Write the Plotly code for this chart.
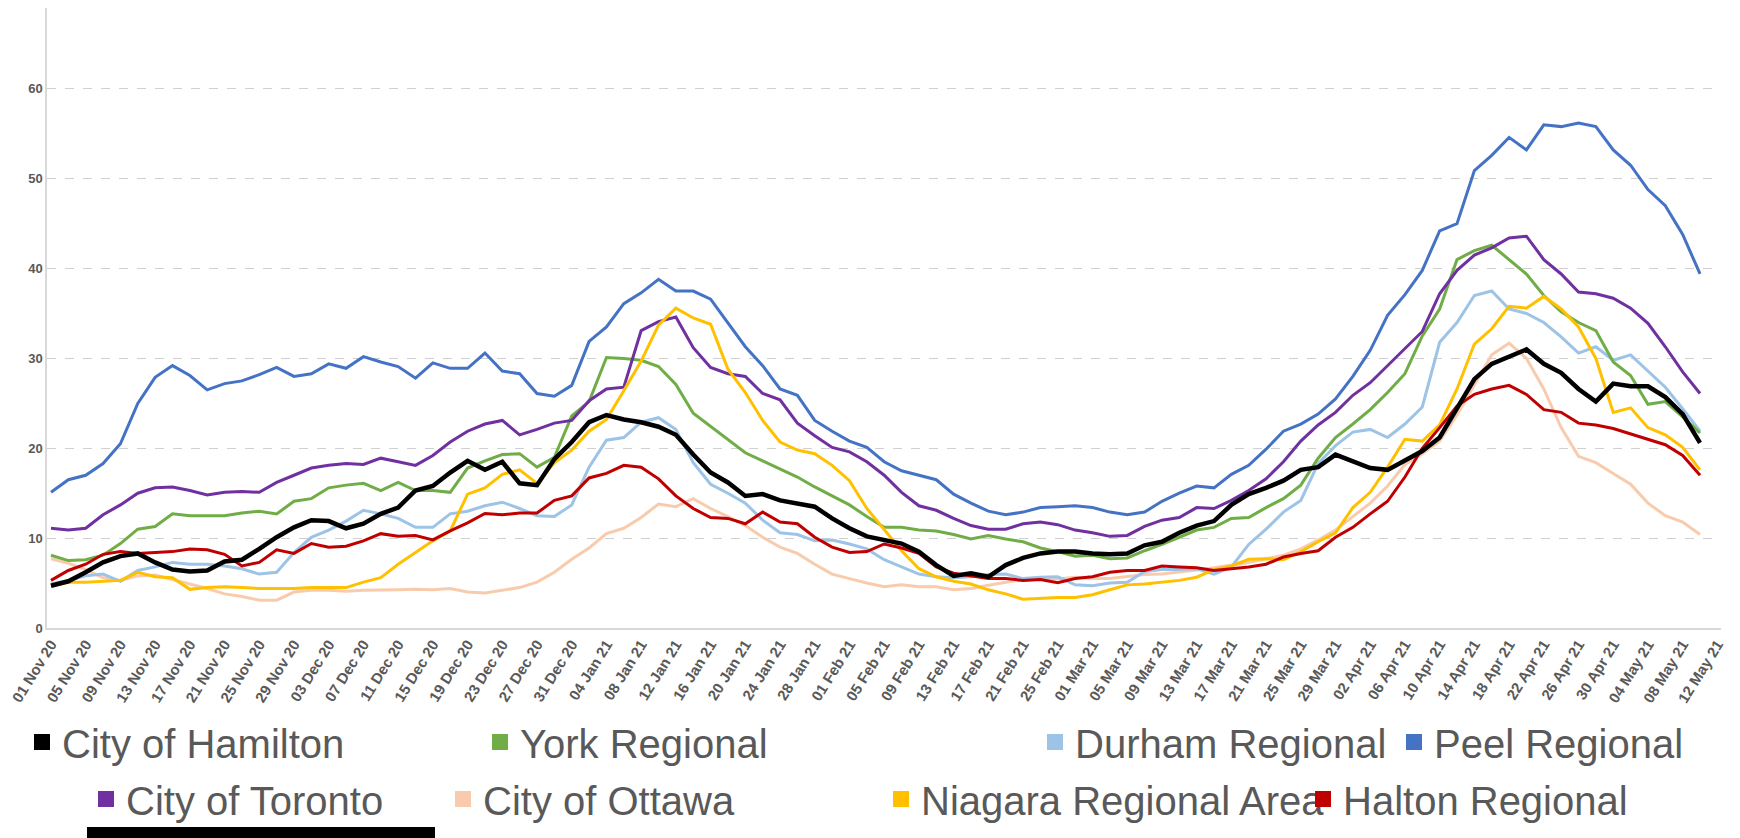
import pandas as pd
import plotly.graph_objects as go

# Dates: every 2 days, 01 Nov 2020 .. 10 May 2021
dates = pd.date_range("2020-11-01", "2021-05-10", freq="2D")

hamilton = [4.7, 5.2, 6.2, 7.3, 8.0, 8.3, 7.3, 6.5, 6.3, 6.4,
            7.4, 7.6, 8.8, 10.1, 11.2, 12.0, 11.9, 11.1, 11.6, 12.7,
            13.4, 15.3, 15.8, 17.3, 18.6, 17.6, 18.5, 16.1, 15.9, 18.8,
            20.7, 22.9, 23.7, 23.2, 22.9, 22.4, 21.5, 19.3, 17.3, 16.2,
            14.7, 14.9, 14.2, 13.9, 13.5, 12.2, 11.1, 10.2, 9.8, 9.4,
            8.5, 7.0, 5.8, 6.1, 5.7, 7.0, 7.8, 8.3, 8.5, 8.5,
            8.3, 8.2, 8.3, 9.2, 9.6, 10.6, 11.4, 11.9, 13.7, 14.9,
            15.6, 16.4, 17.6, 17.9, 19.3, 18.5, 17.8, 17.6, 18.6, 19.7,
            21.2, 24.4, 27.7, 29.4, 30.2, 31.0, 29.4, 28.4, 26.6, 25.2,
            27.2, 26.9, 26.9, 25.7, 23.8, 20.6]

york = [8.1, 7.5, 7.6, 8.1, 9.4, 11.0, 11.3, 12.7, 12.5, 12.5,
        12.5, 12.8, 13.0, 12.7, 14.1, 14.4, 15.6, 15.9, 16.1, 15.3,
        16.2, 15.3, 15.3, 15.1, 17.8, 18.6, 19.3, 19.4, 17.9, 19.0,
        23.6, 25.2, 30.1, 30.0, 29.8, 29.1, 27.1, 23.9, 22.4, 21.0,
        19.5, 18.6, 17.7, 16.8, 15.7, 14.7, 13.7, 12.4, 11.2, 11.2,
        10.9, 10.8, 10.4, 9.9, 10.3, 9.9, 9.6, 8.9, 8.5, 8.0,
        8.1, 7.7, 7.8, 8.6, 9.3, 10.1, 10.9, 11.2, 12.2, 12.3,
        13.4, 14.4, 15.9, 18.9, 21.2, 22.7, 24.3, 26.2, 28.3, 32.5,
        35.5, 41.0, 42.0, 42.6, 41.0, 39.4, 37.0, 35.2, 34.0, 33.1,
        29.6, 28.1, 24.9, 25.2, 23.5, 21.7]

durham = [4.9, 5.3, 5.8, 6.0, 5.2, 6.4, 6.8, 7.3, 7.1, 7.1,
          6.9, 6.6, 6.0, 6.2, 8.4, 10.1, 10.9, 11.9, 13.1, 12.7,
          12.2, 11.2, 11.2, 12.7, 13.0, 13.6, 14.0, 13.3, 12.5, 12.4,
          13.7, 17.9, 20.9, 21.2, 22.9, 23.4, 22.1, 18.4, 16.0, 15.0,
          13.9, 12.0, 10.6, 10.4, 9.7, 9.8, 9.35, 8.8, 7.6, 6.8,
          6.0, 5.7, 5.6, 5.7, 5.95, 6.0, 5.5, 5.65, 5.7, 4.8,
          4.7, 5.0, 5.1, 6.3, 6.5, 6.5, 6.6, 6.0, 6.8, 9.3,
          11.0, 12.9, 14.2, 18.3, 20.3, 21.8, 22.1, 21.2, 22.7, 24.6,
          31.8, 34.0, 37.0, 37.5, 35.5, 35.0, 34.0, 32.4, 30.6, 31.3,
          29.8, 30.4, 28.6, 26.8, 24.4, 21.9]

peel = [15.1, 16.5, 17.0, 18.3, 20.5, 25.0, 27.9, 29.2, 28.1, 26.5,
        27.2, 27.5, 28.2, 29.0, 28.0, 28.3, 29.4, 28.9, 30.2, 29.6,
        29.1, 27.8, 29.5, 28.9, 28.9, 30.6, 28.6, 28.3, 26.1, 25.8,
        27.0, 31.9, 33.5, 36.1, 37.3, 38.8, 37.5, 37.5, 36.6, 34.0,
        31.3, 29.2, 26.6, 25.9, 23.1, 21.9, 20.8, 20.1, 18.5, 17.5,
        17.0, 16.5, 14.9, 13.9, 13.0, 12.6, 12.9, 13.4, 13.5, 13.6,
        13.4, 12.9, 12.6, 12.9, 14.1, 15.0, 15.8, 15.6, 17.1, 18.1,
        19.9, 21.9, 22.7, 23.8, 25.5, 28.0, 30.9, 34.8, 37.1, 39.8,
        44.2, 45.0, 50.9, 52.6, 54.6, 53.2, 56.0, 55.8, 56.2, 55.8,
        53.2, 51.5, 48.8, 47.0, 43.8, 39.4]

toronto = [11.1, 10.9, 11.1, 12.6, 13.7, 15.0, 15.6, 15.7, 15.3, 14.8,
           15.1, 15.2, 15.1, 16.2, 17.0, 17.8, 18.1, 18.3, 18.2, 18.9,
           18.5, 18.1, 19.2, 20.7, 21.9, 22.7, 23.1, 21.5, 22.1, 22.8,
           23.1, 25.3, 26.6, 26.8, 33.1, 34.1, 34.6, 31.2, 29.0, 28.3,
           28.0, 26.1, 25.4, 22.8, 21.4, 20.1, 19.6, 18.5, 17.0, 15.1,
           13.6, 13.1, 12.2, 11.4, 11.0, 11.0, 11.6, 11.8, 11.5, 10.9,
           10.6, 10.2, 10.3, 11.3, 12.0, 12.3, 13.4, 13.3, 14.2, 15.3,
           16.6, 18.5, 20.8, 22.6, 24.0, 25.9, 27.3, 29.2, 31.2, 33.0,
           37.2, 39.8, 41.5, 42.3, 43.4, 43.6, 41.0, 39.4, 37.4, 37.2,
           36.7, 35.6, 33.9, 31.3, 28.5, 26.1]

ottawa = [7.7, 7.2, 6.5, 5.6, 5.3, 5.8, 5.9, 5.4, 4.9, 4.4,
          3.8, 3.5, 3.1, 3.1, 4.0, 4.2, 4.2, 4.1, 4.2, 4.2,
          4.25, 4.3, 4.25, 4.4, 4.0, 3.9, 4.2, 4.5, 5.1, 6.2,
          7.65, 8.9, 10.5, 11.1, 12.3, 13.8, 13.5, 14.4, 13.3, 12.4,
          11.4, 10.1, 9.0, 8.3, 7.1, 6.0, 5.5, 5.0, 4.6, 4.8,
          4.6, 4.6, 4.25, 4.4, 4.75, 5.1, 5.4, 5.5, 5.45, 5.65,
          5.5, 5.5, 5.7, 5.95, 6.0, 6.2, 6.45, 6.7, 7.0, 7.3,
          7.7, 8.1, 8.8, 9.8, 10.9, 12.4, 13.9, 15.8, 18.2, 19.4,
          20.8, 23.7, 27.1, 30.4, 31.7, 30.0, 26.6, 22.3, 19.1, 18.4,
          17.2, 16.0, 13.9, 12.5, 11.8, 10.4]

niagara = [4.7, 5.1, 5.1, 5.2, 5.3, 6.2, 5.7, 5.6, 4.3, 4.5,
           4.6, 4.5, 4.4, 4.4, 4.4, 4.5, 4.5, 4.5, 5.1, 5.6,
           7.1, 8.4, 9.7, 10.8, 14.9, 15.6, 17.1, 17.6, 16.1, 18.4,
           19.8, 21.9, 23.2, 26.4, 29.7, 33.7, 35.6, 34.5, 33.8, 28.8,
           26.2, 23.1, 20.7, 19.8, 19.4, 18.1, 16.4, 13.3, 11.0, 8.6,
           6.6, 5.7, 5.2, 4.9, 4.25, 3.8, 3.2, 3.3, 3.4, 3.4,
           3.7, 4.25, 4.8, 4.9, 5.1, 5.3, 5.65, 6.5, 6.9, 7.65,
           7.7, 7.6, 8.5, 9.6, 10.6, 13.4, 15.1, 17.9, 21.0, 20.8,
           22.6, 26.6, 31.6, 33.3, 35.8, 35.6, 36.9, 35.5, 33.5, 30.0,
           24.0, 24.5, 22.3, 21.5, 20.1, 17.6]

halton = [5.3, 6.4, 7.1, 8.2, 8.5, 8.3, 8.4, 8.5, 8.8, 8.7,
          8.2, 6.9, 7.3, 8.7, 8.3, 9.4, 9.0, 9.1, 9.7, 10.5,
          10.2, 10.3, 9.8, 10.8, 11.7, 12.75, 12.6, 12.8, 12.8, 14.2,
          14.7, 16.7, 17.2, 18.1, 17.9, 16.6, 14.7, 13.3, 12.3, 12.2,
          11.6, 12.9, 11.8, 11.6, 10.1, 9.0, 8.4, 8.5, 9.35, 8.9,
          8.3, 6.8, 6.1, 5.8, 5.5, 5.5, 5.3, 5.4, 5.05, 5.5,
          5.7, 6.2, 6.4, 6.4, 6.9, 6.8, 6.7, 6.4, 6.6, 6.8,
          7.1, 7.9, 8.3, 8.6, 10.1, 11.2, 12.7, 14.1, 16.8, 20.0,
          22.3, 24.7, 26.0, 26.6, 27.0, 26.0, 24.3, 24.0, 22.8, 22.6,
          22.2, 21.6, 21.0, 20.4, 19.2, 17.0]

names = ["City of Hamilton", "York Regional", "Durham Regional", "Peel Regional",
         "City of Toronto", "City of Ottawa", "Niagara Regional Area", "Halton Regional"]
colors = ["#000000", "#70AD47", "#9DC3E6", "#4472C4",
          "#7030A0", "#F8CBAD", "#FFC000", "#C00000"]
series = [hamilton, york, durham, peel, toronto, ottawa, niagara, halton]

fig = go.Figure()

# draw order (last on top)
draw_order = [5, 2, 1, 4, 3, 6, 7, 0]
for i in draw_order:
    fig.add_trace(go.Scatter(
        x=dates, y=series[i], mode="lines", name=names[i],
        line=dict(color=colors[i], width=4.5 if i == 0 else 3),
        showlegend=False, hoverinfo="x+y+name"))

# geometry (figure pixels)
plot_left, plot_w, plot_h = 39, 1674, 620
FONT = "Liberation Sans, Arial, sans-serif"

# legend entries (square swatches), each in its own legend box
text_start = [56, 514, 1069, 1428, 120, 477, 915, 1337]
row_y = [734, 734, 734, 734, 791, 791, 791, 791]
legend_keys = ["legend", "legend2", "legend3", "legend4",
               "legend5", "legend6", "legend7", "legend8"]
legend_layout = {}
for i in range(8):
    fig.add_trace(go.Scatter(
        x=[None], y=[None], mode="markers", name=names[i],
        marker=dict(symbol="square", size=22, color=colors[i]),
        showlegend=True, legend=legend_keys[i]))
    legend_layout[legend_keys[i]] = dict(
        x=(text_start[i] - 42 - plot_left) / plot_w,
        y=(plot_h - row_y[i]) / plot_h,
        xanchor="left", yanchor="middle",
        orientation="h", bgcolor="rgba(0,0,0,0)",
        font=dict(family=FONT, size=40, color="#595959"),
        itemwidth=30, itemsizing="trace")

fig.update_layout(
    width=1740, height=838,
    margin=dict(l=plot_left, r=1740 - plot_left - plot_w, t=0, b=838 - plot_h),
    plot_bgcolor="white", paper_bgcolor="white",
    **legend_layout,
    xaxis=dict(
        type="date",
        range=["2020-10-31 13:00", "2021-05-12 10:00"],
        tick0="2020-11-01", dtick=4 * 86400000,
        tickformat="%d %b %y", tickangle=-58,
        tickfont=dict(family=FONT, size=15, color="#595959", weight="bold"),
        showgrid=False, showline=True, linecolor="#d9d9d9", linewidth=1.5,
        ticks="", zeroline=False),
    yaxis=dict(
        range=[0, 69], tickvals=[0, 10, 20, 30, 40, 50, 60],
        tickfont=dict(family=FONT, size=13, color="#595959", weight="bold"),
        showgrid=True, gridcolor="#d0d0d0", griddash="dash", gridwidth=1,
        showline=True, linecolor="#d9d9d9", linewidth=1.5,
        ticks="", zeroline=False),
    shapes=[dict(type="rect", xref="paper", yref="paper",
                 x0=(79 - plot_left) / plot_w, x1=(427 - plot_left) / plot_w,
                 y0=(plot_h - 832) / plot_h, y1=(plot_h - 819) / plot_h,
                 fillcolor="black", line=dict(width=0))],
)

fig.write_html("out.html")
